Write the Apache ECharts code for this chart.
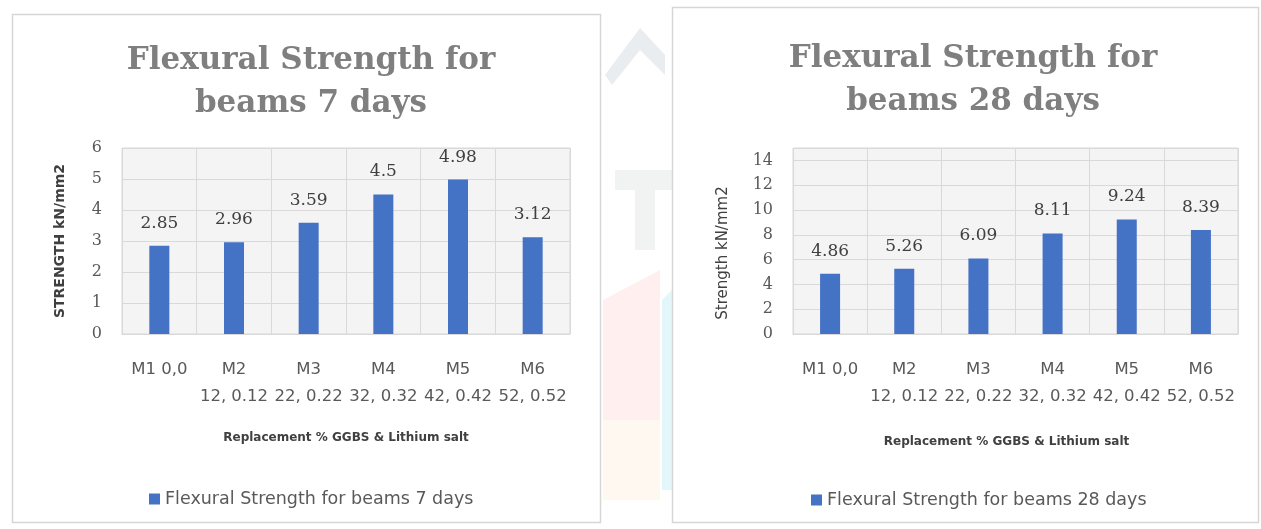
<!DOCTYPE html>
<html>
<head>
<meta charset="utf-8">
<script src="https://cdn.jsdelivr.net/npm/echarts@6/dist/echarts.min.js"></script>
<style>
html,body{margin:0;padding:0;background:#fff;}
#c{width:1261px;height:529px;}
</style>
</head>
<body>
<div id="c"></div>
<script>
const categories = ["M1 0,0", "M2\n12, 0.12", "M3\n22, 0.22", "M4\n32, 0.32", "M5\n42, 0.42", "M6\n52, 0.52"];
const values7 = [2.85, 2.96, 3.59, 4.5, 4.98, 3.12];
const values28 = [4.86, 5.26, 6.09, 8.11, 9.24, 8.39];
const name7 = "Flexural Strength for beams 7 days";
const name28 = "Flexural Strength for beams 28 days";
const title7 = "Flexural Strength for\nbeams 7 days";
const title28 = "Flexural Strength for\nbeams 28 days";
const xName = "Replacement % GGBS & Lithium salt";
const yName7 = "STRENGTH kN/mm2";
const yName28 = "Strength kN/mm2";

const serif = "DejaVu Serif";
const sans = "DejaVu Sans";
const barColor = "#4472C4";
const gridLine = "#d9d9d9";

const chart = echarts.init(document.getElementById('c'));

function xAxis(gi, nameGap, namePad){
  return {
    type:'category', gridIndex:gi, data:categories,
    axisLine:{show:true, lineStyle:{color:gridLine}},
    axisTick:{show:false},
    splitLine:{show:true, lineStyle:{color:gridLine}},
    axisLabel:{color:'#595959', fontFamily:sans, fontSize:16.5, lineHeight:27, margin:22, interval:0},
    name:xName, nameLocation:'middle', nameGap:nameGap,
    nameTextStyle:{color:'#404040', fontFamily:sans, fontWeight:'bold', fontSize:12, padding:namePad}
  };
}
function yAxis(gi, max, interval, name, nameGap, nameStyle){
  return {
    type:'value', gridIndex:gi, min:0, max:max, interval:interval,
    axisLine:{show:false}, axisTick:{show:false},
    splitLine:{show:true, lineStyle:{color:gridLine}},
    axisLabel:{color:'#595959', fontFamily:serif, fontSize:16, margin:20, showMaxLabel: max===6},
    name:name, nameLocation:'middle', nameGap:nameGap, nameRotate:90,
    nameTextStyle:nameStyle
  };
}

const faint = (pts, color) => ({type:'polygon', shape:{points:pts}, style:{fill:color}, z:-20, silent:true});

chart.setOption({
  animation:false,
  backgroundColor:'#ffffff',
  graphic:[
    faint([[605,75],[640,28],[665,55],[665,75],[640,50],[612,85]], 'rgba(200,210,215,0.4)'),
    faint([[615,170],[672,170],[672,190],[655,190],[655,250],[635,250],[635,190],[615,190]], 'rgba(215,220,222,0.35)'),
    faint([[603,300],[660,270],[660,420],[603,420]], 'rgba(255,215,215,0.4)'),
    faint([[603,420],[660,420],[660,500],[603,500]], 'rgba(255,235,215,0.35)'),
    faint([[662,300],[672,290],[672,490],[662,490]], 'rgba(200,240,245,0.5)'),
    {type:'rect', shape:{x:12.5, y:14.5, width:588, height:508}, style:{fill:'#fff', stroke:'#d6d6d6', lineWidth:1.5}, z:-10},
    {type:'rect', shape:{x:672.5, y:7.5, width:586, height:515}, style:{fill:'#fff', stroke:'#d6d6d6', lineWidth:1.5}, z:-10}
  ],
  title:[
    {text:title7, left:306, top:34, textAlign:'center',
     textStyle:{fontFamily:serif, fontWeight:'bold', fontSize:31, lineHeight:43, color:'#7f7f7f'}},
    {text:title28, left:968, top:32, textAlign:'center',
     textStyle:{fontFamily:serif, fontWeight:'bold', fontSize:31, lineHeight:43, color:'#7f7f7f'}}
  ],
  legend:[
    {data:[name7], left:144, top:485, itemWidth:11, itemHeight:11, itemGap:5, icon:'rect',
     textStyle:{color:'#595959', fontFamily:sans, fontSize:17.5}},
    {data:[name28], left:806, top:486, itemWidth:11, itemHeight:11, itemGap:5, icon:'rect',
     textStyle:{color:'#595959', fontFamily:sans, fontSize:17.5}}
  ],
  grid:[
    {left:122, top:148, width:448, height:186, show:true, backgroundColor:'#f4f4f4', borderColor:gridLine, borderWidth:1},
    {left:793, top:148, width:445, height:186, show:true, backgroundColor:'#f4f4f4', borderColor:gridLine, borderWidth:1}
  ],
  xAxis:[xAxis(0, 98, [0,0,0,0]), xAxis(1, 102, [0,18,0,0])],
  yAxis:[
    yAxis(0, 6, 1, yName7, 55, {color:'#404040', fontFamily:sans, fontWeight:'bold', fontSize:14}),
    yAxis(1, 15, 2, yName28, 62, {color:'#404040', fontFamily:sans, fontSize:15, padding:[0,24,0,0]})
  ],
  series:[
    {name:name7, type:'bar', xAxisIndex:0, yAxisIndex:0, data:values7, barWidth:20,
     itemStyle:{color:barColor},
     label:{show:true, position:'top', distance:14, color:'#404040', fontFamily:serif, fontSize:17}},
    {name:name28, type:'bar', xAxisIndex:1, yAxisIndex:1, data:values28, barWidth:20,
     itemStyle:{color:barColor},
     label:{show:true, position:'top', distance:14, color:'#404040', fontFamily:serif, fontSize:17}}
  ]
});
</script>
</body>
</html>
